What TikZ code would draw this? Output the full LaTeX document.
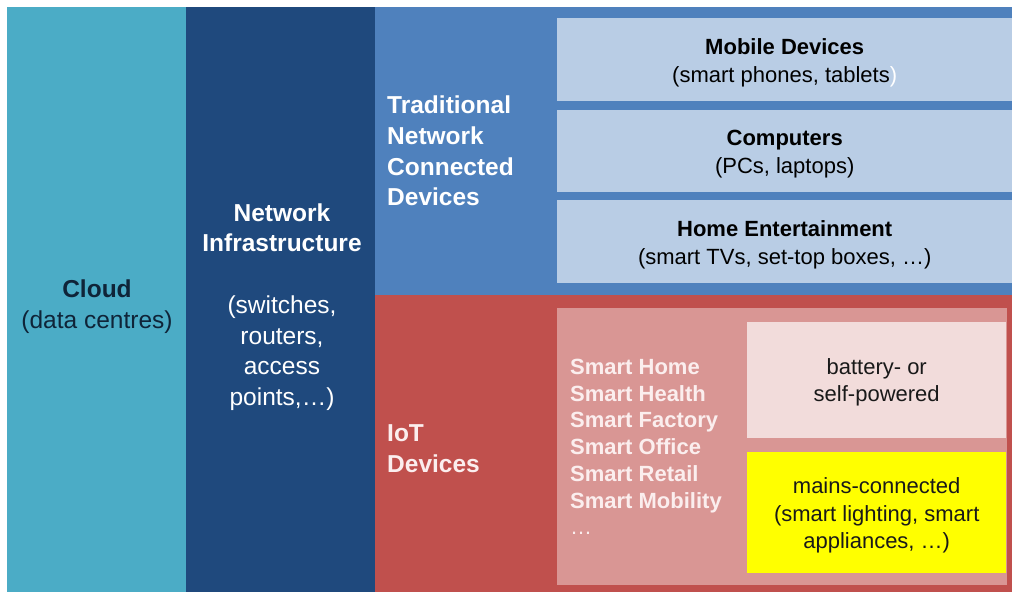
\documentclass[tikz,border=0pt]{standalone}
\usepackage{fontspec}
\setmainfont{Liberation Sans}
\usepackage{xcolor}
\usepackage{tikz}
\usetikzlibrary{positioning}
\definecolor{cloudcol}{HTML}{4BACC6}
\definecolor{netcol}{HTML}{1F497D}
\definecolor{tradcol}{HTML}{4F81BD}
\definecolor{tradbox}{HTML}{B9CDE5}
\definecolor{iotcol}{HTML}{C0504D}
\definecolor{iotinner}{HTML}{D99694}
\definecolor{battcol}{HTML}{F2DCDB}
\definecolor{mainscol}{HTML}{FFFF00}
\definecolor{cloudtext}{HTML}{0F2438}
\definecolor{smarttext}{HTML}{FBEEEE}
\tikzset{band/.style={rectangle,inner sep=0pt,anchor=north west},
         biglbl/.style={font=\fontsize{24.5}{30.7}\selectfont,inner sep=0pt},
         boxlbl/.style={font=\fontsize{22}{27.5}\selectfont,inner sep=0pt,align=center}}

\begin{document}
\begin{tikzpicture}[x=1pt,y=-1pt]
        \useasboundingbox (0,0) rectangle (1012,592);
        % columns
        \node[band,fill=cloudcol,minimum width=179pt,minimum height=585pt] (cloud) at (7,7) {};
        \node[band,fill=netcol,minimum width=189pt,minimum height=585pt] (net) at (186,7) {};
        \node[band,fill=tradcol,minimum width=637pt,minimum height=288pt] (trad) at (375,7) {};
        \node[band,fill=iotcol,minimum width=637pt,minimum height=297pt] (iot) at (375,295) {};

        \node[biglbl,align=center,text=cloudtext] (cloudtxt) at (97,307) {\textbf{Cloud}\\(data centres)};
        \node[biglbl,align=center,text=white] (nettxt) at (282,307) {\textbf{Network}\\\textbf{Infrastructure}\\[30.7pt](switches,\\routers,\\access\\points,…)};
        \node[biglbl,align=left,text=white,anchor=west] (tradtxt) at (387,151) {\textbf{Traditional}\\\textbf{Network}\\\textbf{Connected}\\\textbf{Devices}};
        \node[biglbl,align=left,text=smarttext,anchor=west] (iottxt) at (387,449) {\textbf{IoT}\\\textbf{Devices}};

        % traditional devices
        \node[band,fill=tradbox,minimum width=455pt,minimum height=83pt] (mobile) at (557,18) {};
        \node[band,fill=tradbox,minimum width=455pt,minimum height=82pt] (comp) at (557,110) {};
        \node[band,fill=tradbox,minimum width=455pt,minimum height=83pt] (home) at (557,200) {};
        \node[boxlbl,yshift=-3pt] at (mobile.center) {\textbf{Mobile Devices}\\(smart phones, tablets{\color{white})}};
        \node[boxlbl,yshift=-3pt] at (comp.center) {\textbf{Computers}\\(PCs, laptops)};
        \node[boxlbl,yshift=-3pt] at (home.center) {\textbf{Home Entertainment}\\(smart TVs, set-top boxes, …)};

        % iot devices
        \node[band,fill=iotinner,minimum width=450pt,minimum height=277pt] (inner) at (557,308) {};
        \node[boxlbl,align=left,text=smarttext,anchor=west,font=\fontsize{22}{26.7}\selectfont] (smart) at (570,447) {\textbf{Smart Home}\\\textbf{Smart Health}\\\textbf{Smart Factory}\\\textbf{Smart Office}\\\textbf{Smart Retail}\\\textbf{Smart Mobility}\\…};
        \node[band,fill=battcol,minimum width=259pt,minimum height=116pt] (batt) at (747,322) {};
        \node[band,fill=mainscol,minimum width=259pt,minimum height=121pt] (mains) at (747,452) {};
        \node[boxlbl,text=black!90,yshift=-2pt] at (batt.center) {battery- or\\self-powered};
        \node[boxlbl,text=black!90,yshift=-3pt] at (mains.center) {mains-connected\\(smart lighting, smart\\appliances, …)};
    \end{tikzpicture}
\end{document}
